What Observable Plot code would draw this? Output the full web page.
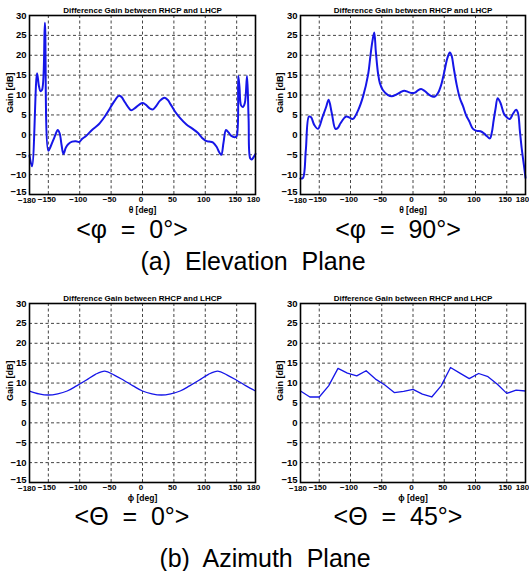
<!DOCTYPE html>
<html><head><meta charset="utf-8">
<script src="https://cdn.jsdelivr.net/npm/d3@7"></script>
<script src="https://cdn.jsdelivr.net/npm/@observablehq/plot@0.6"></script>
<style>
body{margin:0;background:#fff;}
#wrap{position:relative;width:529px;height:571px;overflow:hidden;font-family:"Liberation Sans",Arial,sans-serif;background:#fff;}
.chart{position:absolute;}
.cap{position:absolute;transform:translate(-50%,-50%);white-space:pre;color:#000;line-height:1;}
</style></head><body><div id="wrap"></div>
<script>
// ---- data ----
const chartTitle = "Difference Gain between RHCP and LHCP";
const xTicksInner = [-150, -100, -50, 0, 50, 100, 150];
const xTickLeft = [-180];
const xTickRight = [180];
const xGrid = [-150, -100, -50, 0, 50, 100, 150];
const yTicksUpper = [-10, -5, 0, 5, 10, 15, 20, 25, 30];
const yTickBottom = [-15];
const yGrid = [-10, -5, 0, 5, 10, 15, 20, 25];

// (a) Elevation plane, phi = 0
const elev0Theta = [-180,-176,-168,-165,-162.5,-160,-155.5,-150,-146,-140,-135,-132,-129,-126,-122,-118,-112,-106,-101,-96,-90,-80,-70,-60,-52,-45,-38,-34,-28,-22,-18,-12,-5,0,5,12,17,22,28,35,40,45,52,60,70,80,88,95,101,106,112,118,122,125.5,129,133,137,141,147,150,152.5,154.5,157,160,163,166.5,169,171.5,174,177,180];
const elev0Gain  = [-5.2,-7.9,15.5,12.3,11.0,11.3,28.2,-4.0,-2.8,-0.5,1.2,0.4,-2.5,-4.8,-3.2,-2.3,-1.7,-1.6,-1.8,-1.0,-0.3,1.3,2.6,4.6,6.6,8.4,9.8,9.6,8.2,6.8,6.2,6.7,7.6,8.0,7.6,6.6,6.4,7.3,8.6,9.3,8.8,7.6,5.8,4.2,2.6,1.5,0.5,-0.8,-1.5,-1.7,-1.9,-3.0,-4.3,-5.0,-2.0,1.2,0.6,-0.2,-0.6,-0.3,14.8,12.0,7.4,7.0,8.0,14.8,4.0,-5.9,-6.2,-5.6,-4.8];

// (a) Elevation plane, phi = 90
const elev90Theta = [-180,-176,-171.5,-166.5,-163,-158,-152,-145,-139,-135,-130,-124,-120,-116,-107,-100,-96,-88,-80,-72,-68,-65,-62,-59.5,-56,-53,-48,-40,-34,-27,-20,-14,-8,-2,3,8,13,18,24,30,35,40,45,50,55,59,62,65,70,75,80,85,90,96,102,108,114,118,123,126,129,132,135.5,140,145.5,150,155,160,165,168,171,174,177.5,180];
const elev90Gain  = [-11,-10.8,-3.9,4.6,4.4,2.5,1.5,4.4,7.0,8.8,5.5,1.5,1.8,2.9,4.6,4.2,4.0,6.1,9.6,15.0,20.0,23.5,25.7,21.0,15.5,13.0,11.2,10.0,9.7,10.1,10.7,11.1,10.8,10.5,10.6,11.2,11.5,11.1,10.3,9.7,9.6,10.5,12.5,15.8,19.3,20.7,19.8,17.0,12.5,9.2,7.2,4.9,3.4,1.5,1.0,0.9,0.3,-0.3,-0.9,0.5,3.6,6.5,9.2,8.0,5.3,4.4,4.0,5.3,6.3,5.5,1.0,-3.5,-7.7,-10.8];

// (b) Azimuth plane, 15 deg steps
const aziPhi = [-180,-165,-150,-135,-120,-105,-90,-75,-60,-45,-30,-15,0,15,30,45,60,75,90,105,120,135,150,165,180];
const azi0Gain  = [8.0,7.3,7.0,7.3,8.0,9.3,10.7,12.2,13.0,12.0,10.7,9.3,8.0,7.3,7.0,7.3,8.0,9.3,10.7,12.2,13.0,12.0,10.7,9.3,8.0];
const azi45Gain = [8.0,6.5,6.5,9.3,13.7,12.5,11.8,13.1,11.0,9.5,7.6,7.9,8.4,7.2,6.5,9.3,13.9,12.5,11.1,12.4,11.6,9.7,7.4,8.2,8.0];

const captions = [
  {text: "<φ  =  0°>", x: 132, y: 229, size: 25},
  {text: "<φ  =  90°>", x: 398, y: 229, size: 25},
  {text: "(a)  Elevation  Plane", x: 253, y: 261, size: 25},
  {text: "<Θ  =  0°>", x: 132, y: 516, size: 25},
  {text: "<Θ  =  45°>", x: 398, y: 516, size: 25},
  {text: "(b)  Azimuth  Plane", x: 265, y: 558, size: 25}
];

// ---- drawing ----
const wrap = document.getElementById("wrap");
const tickFont = '"Liberation Sans Narrow","Arial Narrow","Liberation Sans",Arial,sans-serif';

function chart({xs, ys, curve, sw, xlabel, left, top, width, height, ml, mr, rightDx}) {
  const data = xs.map((x, i) => ({x, y: ys[i]}));
  const ax = {tickSize: 0, tickPadding: 2, label: null, fontSize: 8, fontWeight: "bold"};
  const ay = {tickSize: 0, tickPadding: 3, label: null, fontSize: 9.5, fontWeight: "bold"};
  const p = Plot.plot({
    width, height,
    marginLeft: ml, marginRight: mr, marginTop: 15, marginBottom: height - 15 - 179,
    style: {fontFamily: tickFont, fontSize: "9px", fontWeight: "bold", background: "#fff", overflow: "visible", color: "#000"},
    x: {domain: [-180, 180]},
    y: {domain: [-15, 30]},
    marks: [
      Plot.ruleX(xGrid, {stroke: "#444", strokeWidth: 1, strokeDasharray: "3,2.5"}),
      Plot.ruleY(yGrid, {stroke: "#444", strokeWidth: 1, strokeDasharray: "3,2.5"}),
      Plot.line(data, {x: "x", y: "y", curve, stroke: "#1616e8", strokeWidth: sw}),
      Plot.frame({stroke: "#000", strokeWidth: 1.6}),
      Plot.axisX(xTicksInner, {...ax, dx: -1.5}),
      Plot.axisX(xTickLeft, {...ax, dx: -2.5, dy: 1}),
      Plot.axisX(xTickRight, {...ax, dx: rightDx}),
      Plot.axisY(yTicksUpper, ay),
      Plot.axisY(yTickBottom, {...ay, dy: -3}),
      Plot.text([chartTitle], {frameAnchor: "top", dy: -8, fontSize: 8, fontWeight: "bold", fontFamily: '"Liberation Sans",Arial,sans-serif'}),
      Plot.text([xlabel], {frameAnchor: "bottom", dy: 18.5, fontSize: 8.5, fontWeight: "bold"}),
      Plot.text(["Gain [dB]"], {frameAnchor: "left", dx: -ml + 10, dy: 8, rotate: -90, fontSize: 9, fontWeight: "bold"})
    ]
  });
  const d = document.createElement("div");
  d.className = "chart";
  d.style.left = left + "px";
  d.style.top = top + "px";
  d.appendChild(p);
  wrap.appendChild(d);
}

chart({xs: elev0Theta, ys: elev0Gain, curve: "catmull-rom", sw: 2, xlabel: "θ [deg]", left: 0, top: 0, width: 265, height: 215, ml: 29, mr: 10, rightDx: -2});
chart({xs: elev90Theta, ys: elev90Gain, curve: "catmull-rom", sw: 2, xlabel: "θ [deg]", left: 270, top: 0, width: 259, height: 215, ml: 30, mr: 4, rightDx: -3});
chart({xs: aziPhi, ys: azi0Gain, curve: "catmull-rom", sw: 1.3, xlabel: "ϕ [deg]", left: 0, top: 288, width: 265, height: 214, ml: 29, mr: 10, rightDx: -2});
chart({xs: aziPhi, ys: azi45Gain, curve: "linear", sw: 1.3, xlabel: "ϕ [deg]", left: 270, top: 288, width: 259, height: 214, ml: 30, mr: 4, rightDx: -3});

for (const c of captions) {
  const el = document.createElement("div");
  el.className = "cap";
  el.textContent = c.text;
  el.style.left = c.x + "px";
  el.style.top = c.y + "px";
  el.style.fontSize = c.size + "px";
  wrap.appendChild(el);
}
</script>
</body></html>
